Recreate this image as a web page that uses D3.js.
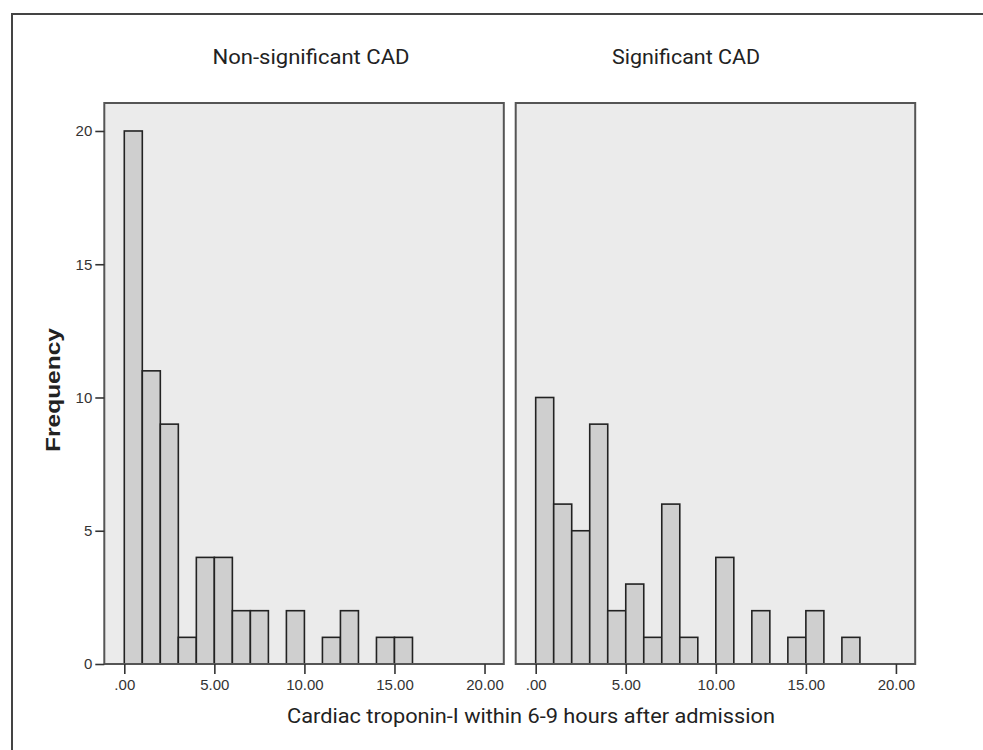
<!DOCTYPE html>
<html>
<head>
<meta charset="utf-8">
<script src="https://cdnjs.cloudflare.com/ajax/libs/d3/7.8.5/d3.min.js"></script>
<style>
  body { margin: 0; background: #fff; }
  svg { display: block; }
</style>
</head>
<body>
<script>
// histogram bins: lower edge of each 1-unit bin
var binStarts = [0, 1, 2, 3, 4, 5, 6, 7, 8, 9, 10, 11, 12, 13, 14, 15, 16, 17];
var nonSigCounts = [20, 11, 9, 1, 4, 4, 2, 2, 0, 2, 0, 1, 2, 0, 1, 1, 0, 0];
var sigCounts = [10, 6, 5, 9, 2, 3, 1, 6, 1, 0, 4, 0, 2, 0, 1, 2, 0, 1];
var panelTitles = ["Non-significant CAD", "Significant CAD"];
var xTicks = [0, 5, 10, 15, 20];
var xTickLabels = [".00", "5.00", "10.00", "15.00", "20.00"];
var yTicks = [0, 5, 10, 15, 20];

var width = 983, height = 750;
var panelTop = 103, panelH = 561, panelW = 399.5;
var panelLefts = [104.3, 515.7];

var svg = d3.select('body').append('svg')
    .attr('width', width)
    .attr('height', height);

// outer frame (only top and left show)
svg.append('path')
    .attr('d', 'M12,750 L12,14 L983,14')
    .attr('fill', 'none')
    .attr('stroke', '#444')
    .attr('stroke-width', 2);

var x = d3.scaleLinear().domain([-1.11, 21.07]).range([0, panelW]);
var y = d3.scaleLinear().domain([0, 21.05]).range([panelH, 0]);

var panels = [
  {title: panelTitles[0], counts: nonSigCounts, left: panelLefts[0], titleX: 311},
  {title: panelTitles[1], counts: sigCounts, left: panelLefts[1], titleX: 686}
];

panels.forEach(function(p, pi){
  var g = svg.append('g')
      .attr('transform', 'translate(' + p.left + ',' + panelTop + ')');

  g.append('rect')
      .attr('x', 0).attr('y', 0)
      .attr('width', panelW).attr('height', panelH)
      .attr('fill', '#ebebeb');

  var bars = binStarts.map(function(b, i){ return {x0: b, x1: b + 1, n: p.counts[i]}; })
      .filter(function(d){ return d.n > 0; });

  g.selectAll('rect.bar')
    .data(bars)
    .enter()
      .append('rect')
      .attr('class', 'bar')
      .attr('x', function(d){ return x(d.x0); })
      .attr('y', function(d){ return y(d.n); })
      .attr('width', function(d){ return x(d.x1) - x(d.x0); })
      .attr('height', function(d){ return y(0) - y(d.n); })
      .attr('fill', '#cfcfcf')
      .attr('stroke', '#222')
      .attr('stroke-width', 1.6);

  g.append('rect')
      .attr('x', 0).attr('y', 0)
      .attr('width', panelW).attr('height', panelH)
      .attr('fill', 'none')
      .attr('stroke', '#555')
      .attr('stroke-width', 2);

  var xAxis = d3.axisBottom(x)
      .tickValues(xTicks)
      .tickSize(10)
      .tickPadding(5)
      .tickFormat(function(d, i){ return xTickLabels[i]; });

  var xg = g.append('g')
      .attr('transform', 'translate(0,' + panelH + ')')
      .call(xAxis);
  xg.select('.domain').remove();
  xg.selectAll('line').attr('stroke', '#333').attr('stroke-width', 1.6);
  xg.selectAll('text')
      .attr('fill', '#333')
      .attr('font-size', 15)
      .attr('font-family', 'Liberation Sans, Arial, sans-serif');

  if (pi == 0) {
    var yAxis = d3.axisLeft(y)
        .tickValues(yTicks)
        .tickSize(9)
        .tickPadding(3)
        .tickFormat(d3.format('d'));
    var yg = g.append('g').call(yAxis);
    yg.select('.domain').remove();
    yg.selectAll('line').attr('stroke', '#333').attr('stroke-width', 1.6);
    yg.selectAll('text')
        .attr('fill', '#333')
        .attr('font-size', 15)
        .attr('font-family', 'Liberation Sans, Arial, sans-serif');
  }

  svg.append('text')
      .attr('x', p.titleX)
      .attr('y', 64)
      .attr('text-anchor', 'middle')
      .attr('fill', '#222')
      .style('font-family', 'Liberation Sans Narrow, Roboto, Arial, sans-serif')
      .style('font-size', '20px')
      .attr('textLength', pi == 0 ? 197 : 148)
      .attr('lengthAdjust', 'spacingAndGlyphs')
      .text(p.title);
});

svg.append('text')
    .attr('x', 531)
    .attr('y', 723)
    .attr('text-anchor', 'middle')
    .attr('fill', '#222')
    .style('font-family', 'Liberation Sans Narrow, Roboto, Arial, sans-serif')
    .style('font-size', '21px')
    .attr('textLength', 488)
    .attr('lengthAdjust', 'spacingAndGlyphs')
    .text('Cardiac troponin-I within 6-9 hours after admission');

svg.append('text')
    .attr('transform', 'translate(60,390) rotate(-90)')
    .attr('text-anchor', 'middle')
    .attr('fill', '#222')
    .style('font-family', 'Liberation Sans, Arial, sans-serif')
    .style('font-weight', 'bold')
    .style('font-size', '21px')
    .attr('textLength', 124)
    .attr('lengthAdjust', 'spacingAndGlyphs')
    .text('Frequency');
</script>
</body>
</html>
